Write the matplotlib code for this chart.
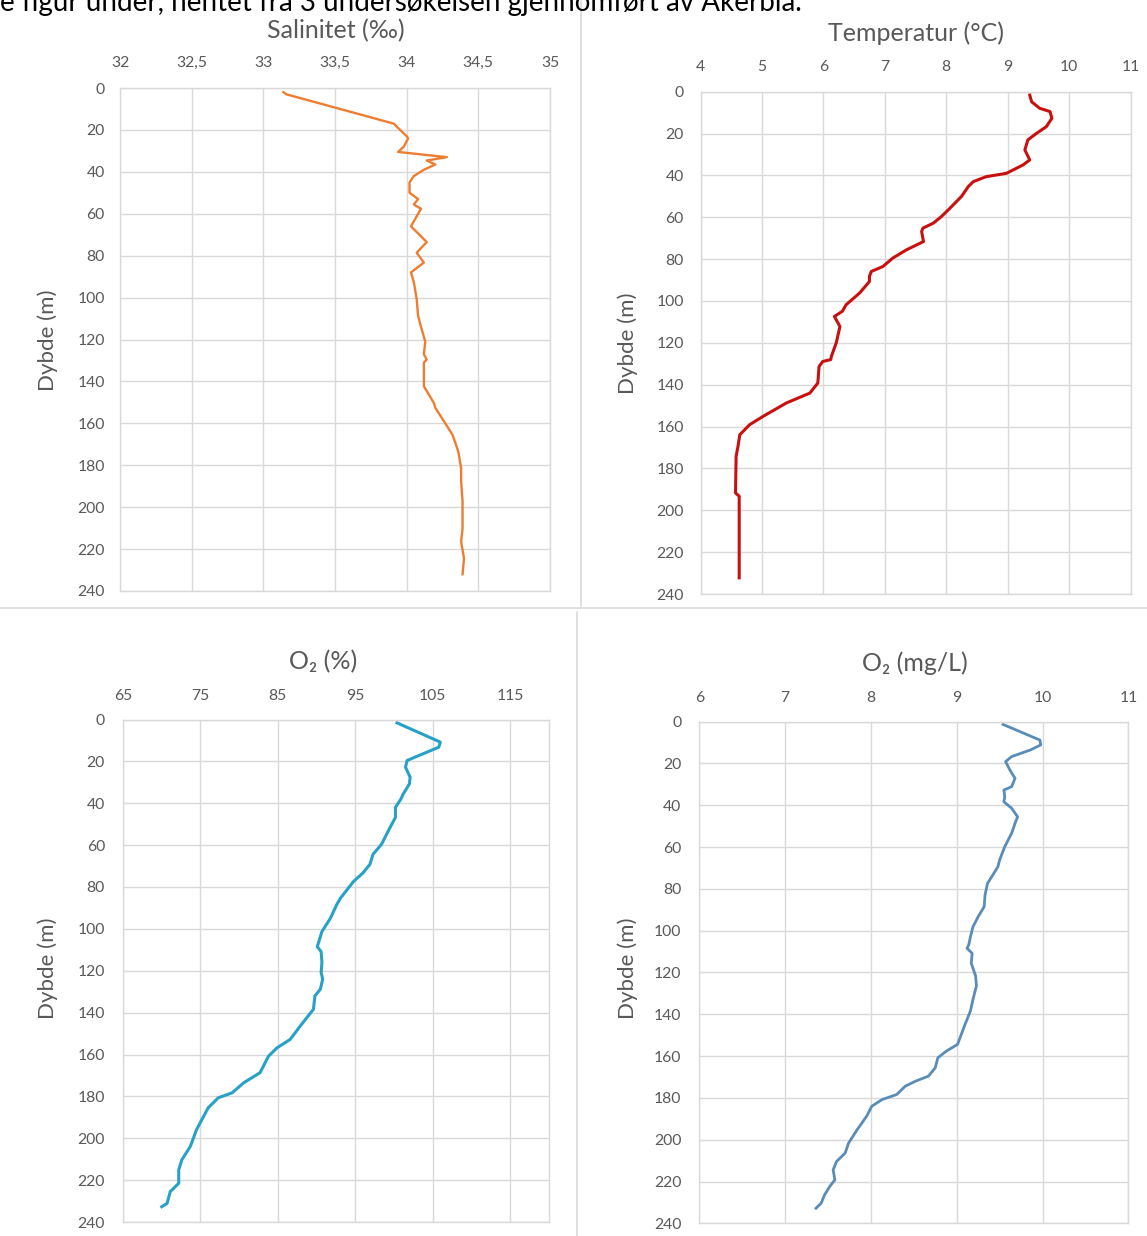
import matplotlib
matplotlib.use('Agg')
import matplotlib.pyplot as plt
from matplotlib.lines import Line2D

plt.rcParams['font.family'] = ['Lato', 'DejaVu Sans']

# Salinity profile (depth in m, salinity in permille)
sal_depth = [2, 3, 17, 23, 24, 28, 30.5, 33, 34.6, 36.5, 39, 42, 45, 50, 53, 55.6, 57.6, 66, 73.5, 78.6,
             83.3, 88, 92.6, 100.8, 108.8, 114, 121, 127, 129.6, 131, 142.3, 150.3, 152.6, 159, 165.5,
             173.4, 181.4, 187.6, 197.3, 210, 216.5, 224.4, 232]
sal_value = [33.14, 33.16, 33.91, 34.0, 34.01, 33.98, 33.94, 34.28, 34.14, 34.2, 34.12, 34.05, 34.02,
             34.02, 34.08, 34.05, 34.1, 34.03, 34.14, 34.07, 34.12, 34.03, 34.05, 34.07, 34.08, 34.1,
             34.13, 34.12, 34.14, 34.12, 34.12, 34.19, 34.2, 34.26, 34.32, 34.36, 34.38, 34.38, 34.39,
             34.39, 34.38, 34.4, 34.39]

# Temperature profile (degC)
temp_depth = [1.6, 4.8, 7.9, 9.5, 12.7, 16.7, 19.9, 23, 27.8, 32.6, 35, 39, 40.6, 43, 45.3, 50, 55.7,
              59.7, 62.8, 65.2, 66.8, 71.6, 75.6, 79.5, 83.5, 85.9, 88.3, 90.7, 96.2, 101.8, 104.9,
              107.4, 112.2, 120, 126.5, 128, 128.9, 131.3, 139.2, 144, 148.7, 155.1, 159.1, 163.9,
              169.5, 174.2, 191.7, 193.3, 232.3]
temp_value = [9.36, 9.39, 9.52, 9.69, 9.72, 9.63, 9.47, 9.33, 9.28, 9.36, 9.25, 8.98, 8.65, 8.44, 8.36,
              8.25, 8.06, 7.92, 7.79, 7.62, 7.6, 7.63, 7.35, 7.13, 6.97, 6.78, 6.75, 6.75, 6.59, 6.37,
              6.31, 6.18, 6.27, 6.21, 6.13, 6.12, 5.99, 5.93, 5.91, 5.78, 5.4, 5.02, 4.8, 4.64, 4.61,
              4.58, 4.57, 4.63, 4.63]

# Oxygen saturation (%)
o2p_depth = [1.6, 10.8, 13.2, 19.6, 22.8, 27.6, 30.8, 35.6, 38, 42, 46.8, 51.6, 59.6, 64.4, 69.2, 73.3,
             77.3, 85.3, 88.5, 94.9, 101.3, 108.5, 110.9, 116, 120.8, 124, 128.8, 132, 138.4, 146.4,
             152.8, 156.8, 160.8, 168.7, 173.5, 178.3, 180.7, 185.5, 195.9, 203.9, 210.3, 215.1,
             221.5, 225.5, 231.1, 232.7]
o2p_value = [100.4, 106.0, 105.8, 101.7, 101.5, 102.1, 102.0, 101.2, 100.9, 100.2, 100.2, 99.5, 98.4,
             97.3, 96.9, 96.0, 94.8, 93.1, 92.6, 91.8, 90.7, 90.1, 90.6, 90.7, 90.6, 90.8, 90.5, 89.8,
             89.6, 87.9, 86.6, 84.9, 83.8, 82.7, 80.6, 79.1, 77.3, 76.0, 74.5, 73.7, 72.6, 72.2, 72.2,
             71.1, 70.7, 70.0]

# Oxygen concentration (mg/L)
o2m_depth = [1.3, 8.8, 11.1, 13.5, 16.7, 19.1, 23.1, 27.1, 31.1, 32.7, 35.9, 38.3, 41.4, 45.5, 48.6,
             53.4, 59.8, 66.2, 69.4, 73.4, 77.3, 82.9, 88.5, 93.3, 98.1, 102.9, 106.8, 108.4, 110.8,
             115.6, 121.6, 126.4, 132.8, 138.4, 145.6, 154.4, 157.6, 160.8, 165.6, 169.6, 172, 174.4,
             178.4, 180.8, 184, 188.8, 195.2, 201.6, 206.4, 210.4, 214.4, 219.2, 222.4, 226.4, 230.4,
             232.8]
o2m_value = [9.54, 9.97, 9.98, 9.86, 9.64, 9.57, 9.62, 9.68, 9.64, 9.55, 9.56, 9.55, 9.64, 9.71, 9.68,
             9.64, 9.56, 9.5, 9.48, 9.42, 9.36, 9.33, 9.32, 9.25, 9.19, 9.16, 9.14, 9.12, 9.18, 9.17,
             9.22, 9.23, 9.19, 9.16, 9.09, 9.01, 8.88, 8.78, 8.75, 8.67, 8.52, 8.4, 8.3, 8.13, 8.01,
             7.95, 7.84, 7.74, 7.7, 7.6, 7.56, 7.58, 7.52, 7.46, 7.42, 7.36]

depth_ticks = list(range(0, 241, 20))
sal_ticks = [32, 32.5, 33, 33.5, 34, 34.5, 35]
sal_labels = ['32', '32,5', '33', '33,5', '34', '34,5', '35']
temp_ticks = [4, 5, 6, 7, 8, 9, 10, 11]
o2p_ticks = [65, 75, 85, 95, 105, 115]
o2m_ticks = [6, 7, 8, 9, 10, 11]

W, H = 1147, 1236
GRID = '#d9d9d9'
TXT = '#595959'

fig = plt.figure(figsize=(W / 100, H / 100), dpi=100)


def box(x0, y0, x1, y1):
    # pixel box -> figure fraction rect
    return [x0 / W, 1 - y1 / H, (x1 - x0) / W, (y1 - y0) / H]


def profile(rect, depth, value, xlim, xticks, xlabels, color, lw, xpad, ypad):
    ax = fig.add_axes(rect)
    ax.plot(value, depth, color=color, linewidth=lw, solid_joinstyle='round')
    ax.set_xlim(*xlim)
    ax.set_ylim(240, 0)
    ax.set_xticks(xticks)
    ax.set_xticklabels(xlabels)
    ax.set_yticks(depth_ticks)
    ax.xaxis.tick_top()
    ax.tick_params(length=0, labelsize=11.3, labelcolor=TXT)
    ax.tick_params(axis='x', pad=xpad)
    ax.tick_params(axis='y', pad=ypad)
    ax.grid(True, color=GRID, linewidth=1)
    ax.set_axisbelow(True)
    for s in ax.spines.values():
        s.set_color(GRID)
        s.set_linewidth(1)
    return ax


profile(box(120, 88, 550, 591), sal_depth, sal_value, (32, 35), sal_ticks, sal_labels,
        '#ED7D31', 1.7, 13, 11)
profile(box(700.5, 91.7, 1130.5, 594), temp_depth, temp_value, (4, 11), temp_ticks,
        [str(t) for t in temp_ticks], '#C81010', 2.2, 13, 12)
profile(box(123, 719.5, 548.7, 1222), o2p_depth, o2p_value, (65, 120), o2p_ticks,
        [str(t) for t in o2p_ticks], '#27A2C6', 2.2, 12, 13)
profile(box(699.3, 721.7, 1128.3, 1223.3), o2m_depth, o2m_value, (6, 11), o2m_ticks,
        [str(t) for t in o2m_ticks], '#5A8CB8', 2.0, 12, 13)

# panel titles and depth labels
fig.text(336 / W, 1 - 31 / H, 'Salinitet (‰)', fontsize=18, color=TXT, ha='center', va='center')
fig.text(916 / W, 1 - 33 / H, 'Temperatur (°C)', fontsize=18, color=TXT, ha='center', va='center')
fig.text(323 / W, 1 - 662 / H, 'O₂ (%)', fontsize=18, color=TXT, ha='center', va='center')
fig.text(915 / W, 1 - 663 / H, 'O₂ (mg/L)', fontsize=18, color=TXT, ha='center', va='center')
for x, y in [(48, 340), (628, 343), (48, 968), (628, 968)]:
    fig.text(x / W, 1 - y / H, 'Dybde (m)', fontsize=16, color=TXT, rotation=90,
             ha='center', va='center')

# thin separators between the panels
fig.add_artist(Line2D([581 / W, 581 / W], [1, 1 - 606 / H], color=GRID, linewidth=1.2))
fig.add_artist(Line2D([0, 1], [1 - 608 / H, 1 - 608 / H], color=GRID, linewidth=1.2))
fig.add_artist(Line2D([577 / W, 577 / W], [1 - 612 / H, 0], color=GRID, linewidth=1.2))

# caption line running off the top edge
fig.text(0, 1 - 11 / H, 'e figur under, hentet fra 3 undersøkelsen gjennomført av Akerblå.',
         fontsize=20, color='black', ha='left', va='baseline')

plt.savefig('out.png', dpi=100)
